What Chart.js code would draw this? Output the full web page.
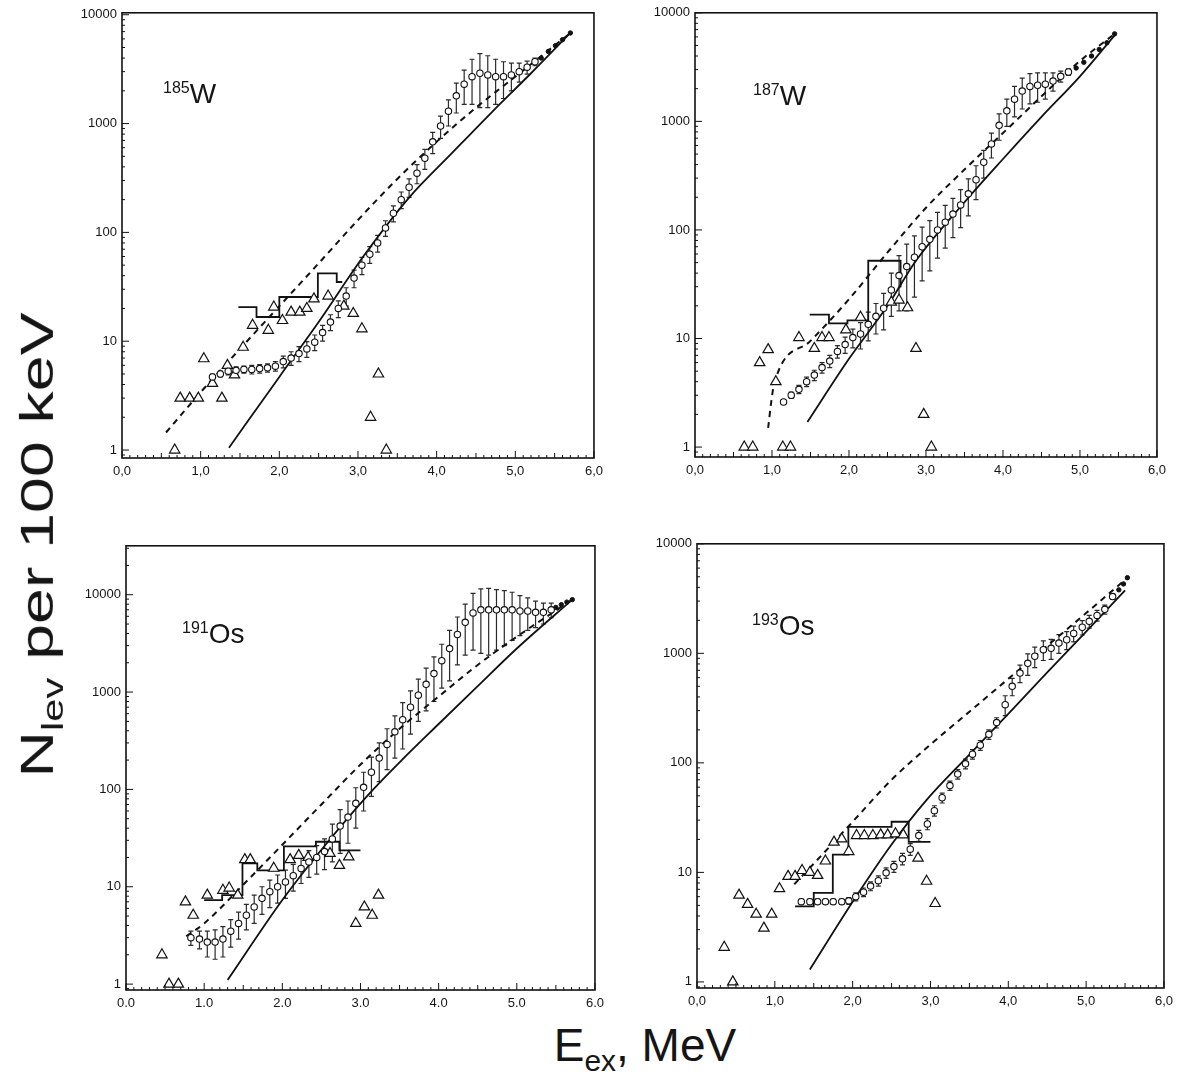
<!DOCTYPE html>
<html>
<head>
<meta charset="utf-8">
<script src="https://cdn.jsdelivr.net/npm/chart.js@4.4.1/dist/chart.umd.min.js"></script>
<style>
body { margin:0; background:#fff; width:1178px; height:1079px; position:relative; overflow:hidden;
       font-family:'Liberation Sans', Arial, sans-serif; color:#151515; }
canvas { position:absolute; }
.nuc { position:absolute; font-size:28px; line-height:1; white-space:nowrap; }
.nuc sup { font-size:16px; vertical-align:0; position:relative; top:-10px; }
#ytitle { position:absolute; left:-215px; top:515px; width:510px; text-align:center; font-size:46px;
          white-space:nowrap; transform:rotate(-90deg) scaleX(1.4); transform-origin:center; }
#xtitle { position:absolute; left:500px; top:1018px; width:290px; text-align:center; font-size:46px; white-space:nowrap; }
sub { font-size:0.65em; }
</style>
</head>
<body>
<canvas id="c185"></canvas>
<canvas id="c187"></canvas>
<canvas id="c191"></canvas>
<canvas id="c193"></canvas>
<div class="nuc" style="left:163px;top:80px"><sup>185</sup>W</div>
<div class="nuc" style="left:753px;top:82px"><sup>187</sup>W</div>
<div class="nuc" style="left:182px;top:620px"><sup>191</sup>Os</div>
<div class="nuc" style="left:752px;top:612px"><sup>193</sup>Os</div>
<div id="ytitle">N<sub>lev</sub> per 100 keV</div>
<div id="xtitle">E<sub>ex</sub>, MeV</div>
<script>
// ---------- 185W ----------
const w185TriX = [0.67,0.74,0.86,0.97,1.04,1.15,1.27,1.34,1.43,1.54,1.66,1.86,1.93,2.04,2.15,2.26,2.35,2.44,2.62,2.82,2.94,3.05,3.16,3.26,3.36];
const w185TriY = [1,3,3,3,6.9,4.1,3,6,4.9,8.8,14,12.6,20.6,15.5,18.5,18.5,20,24.5,26,21,18,13,2.0,5.0,1.0];
const w185X = [1.15,1.25,1.35,1.45,1.55,1.65,1.75,1.85,1.95,2.05,2.15,2.25,2.35,2.45,2.55,2.65,2.75,2.85,2.95,3.05,3.15,3.25,3.35,3.45,3.55,3.65,3.75,3.85,3.95,4.05,4.15,4.25,4.35,4.45,4.55,4.65,4.75,4.85,4.95,5.05,5.15,5.25];
const w185Y = [4.7,5.0,5.3,5.4,5.5,5.5,5.6,5.7,5.9,6.5,7.0,7.7,8.5,9.8,12,15,20,26,38,50,63,80,110,150,200,260,350,480,680,950,1300,1800,2300,2700,2900,2800,2700,2700,2800,3000,3300,3700];
const w185Err = [0.3,0.3,0.4,0.4,0.4,0.5,0.5,0.5,0.6,0.8,1.0,1.2,1.4,1.6,2.0,2.5,3.5,5,7,9,11,14,18,25,35,50,70,100,150,220,350,550,800,1200,1500,1400,1200,1000,800,600,450,300];
const w185DotX = [5.33,5.42,5.51,5.60,5.70];
const w185DotY = [4000,4600,5200,5900,6800];
const w185HistX = [1.48,1.71,2.0,2.49,2.73,2.8];
const w185HistY = [20.6,16.7,25.5,42,35];
const w185SolidX = [1.36,2.0,2.5,3.06,3.65,4.2,4.7,5.2,5.7];
const w185SolidY = [1.05,4.7,15,59,209,540,1270,2900,6800];
const w185DashX = [0.56,1.0,1.5,2.0,2.5,3.0,3.5,4.0,4.5,5.0,5.7];
const w185DashY = [1.45,3.4,8.5,21,52,130,310,680,1400,2700,6800];

// ---------- 187W ----------
const w187TriX = [0.64,0.75,0.84,0.95,1.05,1.14,1.24,1.35,1.55,1.65,1.74,1.96,2.15,2.55,2.65,2.76,2.87,2.97,3.07];
const w187TriY = [1,1,6.0,7.9,4.0,1,1,10.2,8.1,10.2,10.2,12,15.7,21.6,22.6,19.2,8.1,2.0,1];
const w187X = [1.15,1.25,1.35,1.45,1.55,1.65,1.75,1.85,1.95,2.05,2.15,2.25,2.35,2.45,2.55,2.65,2.75,2.85,2.95,3.05,3.15,3.25,3.35,3.45,3.55,3.65,3.75,3.85,3.95,4.05,4.15,4.25,4.35,4.45,4.55,4.65,4.75,4.85];
const w187Y = [2.6,3.0,3.4,4.0,4.6,5.4,6.2,7.6,8.8,10.2,11,13.5,16,19,28,38,46,56,70,82,100,118,140,170,215,290,420,620,920,1250,1600,1900,2100,2150,2200,2350,2600,2850];
const w187Err = [0.1,0.2,0.3,0.4,0.5,0.6,0.8,1.0,1.5,2,3,4,5,7,12,20,28,32,36,40,45,50,55,65,80,100,120,160,250,350,500,600,650,650,600,450,300,200];
const w187DotX = [4.95,5.05,5.15,5.25,5.35,5.45];
const w187DotY = [3100,3500,4000,4600,5300,6400];
const w187HistX = [1.49,1.74,1.98,2.25,2.67,2.68];
const w187HistY = [16.6,13.8,14.7,52,30];
const w187SolidX = [1.46,2.0,2.5,2.87,3.5,4.0,4.5,5.0,5.45];
const w187SolidY = [1.7,6.5,20,52,180,450,1100,2600,6200];
const w187DashX = [0.95,0.99,1.03,1.5,2.0,2.5,3.0,3.5,4.0,4.5,5.0,5.45];
const w187DashY = [1.5,2.6,3.9,9.5,23,62,160,360,780,1700,3600,6400];

// ---------- 191Os ----------
const os191TriX = [0.46,0.55,0.67,0.76,0.86,1.04,1.24,1.32,1.43,1.52,1.59,1.89,2.10,2.21,2.33,2.61,2.73,2.85,2.94,3.05,3.15,3.23];
const os191TriY = [2.0,1,1,7.0,5.1,8.2,9.2,9.7,8.2,19,19,15.5,19,21,20,22,16.6,20.3,4.2,6.2,5.1,8.2];
const os191X = [0.83,0.94,1.04,1.14,1.24,1.34,1.44,1.54,1.64,1.74,1.84,1.94,2.04,2.14,2.24,2.34,2.44,2.54,2.64,2.74,2.84,2.94,3.04,3.14,3.24,3.34,3.44,3.54,3.64,3.74,3.84,3.94,4.04,4.14,4.24,4.34,4.44,4.54,4.64,4.74,4.84,4.94,5.04,5.14,5.24,5.34,5.44];
const os191Y = [3.0,2.9,2.7,2.7,2.9,3.5,4.2,5.1,6.2,7.6,8.9,10,11.2,13,15.4,18,20,23,31,42,52,72,105,150,210,290,390,520,700,930,1200,1550,2100,2800,3900,5200,6500,7000,7000,7000,7000,7000,6800,6800,6600,6600,7000];
const os191Err = [0.5,0.6,0.8,0.9,1.0,1.1,1.3,1.5,2.0,2.4,2.8,3.2,3.6,4.0,4.6,5.5,6.5,8,13,20,24,32,45,65,90,130,180,260,330,430,560,750,1000,1500,2000,2800,3800,4500,4600,4300,4000,3600,3000,2500,2000,1600,1200];
const os191DotX = [5.50,5.57,5.64,5.71];
const os191DotY = [7400,7900,8400,8900];
const os191HistX = [1.0,1.23,1.49,1.68,2.02,2.43,2.73,3.0];
const os191HistY = [7.3,8.2,17.4,14.7,26,29,23.6];
const os191SolidX = [1.30,2.0,2.5,3.07,3.5,4.0,4.5,5.0,5.71];
const os191SolidY = [1.1,7.3,24,83,190,470,1150,2800,8900];
const os191DashX = [0.77,1.0,1.5,2.0,2.5,3.0,3.5,4.0,4.5,5.0,5.71];
const os191DashY = [3.1,4.2,10.5,27,70,180,420,900,1900,3700,8900];

// ---------- 193Os ----------
const os193TriX = [0.35,0.46,0.54,0.65,0.76,0.86,0.96,1.06,1.17,1.26,1.35,1.45,1.55,1.65,1.76,1.86,1.95,2.05,2.15,2.26,2.36,2.45,2.55,2.65,2.84,2.95,3.06];
const os193TriY = [2.07,1.0,6.2,5.1,4.15,3.1,4.15,7.1,9.2,9.2,10.4,10,9.4,12.7,18.9,20.2,15.5,21.7,21.7,21.7,22,22,22.5,22,13.5,8.3,5.2];
const os193X = [1.34,1.45,1.55,1.65,1.75,1.86,1.95,2.04,2.14,2.23,2.33,2.43,2.53,2.64,2.74,2.85,2.96,3.05,3.15,3.25,3.35,3.45,3.54,3.64,3.75,3.85,3.96,4.05,4.15,4.25,4.34,4.45,4.55,4.65,4.75,4.84,4.95,5.04,5.14,5.24,5.34];
const os193Y = [5.4,5.4,5.4,5.4,5.4,5.4,5.5,6.0,6.6,7.5,8.4,9.9,11.3,13.3,16.3,21.7,27.7,36.6,48,62,79,98,120,145,182,233,340,500,660,810,940,1080,1110,1240,1330,1520,1730,1960,2220,2520,3300];
const os193Err = [0.3,0.3,0.3,0.3,0.3,0.3,0.4,0.5,0.6,0.7,0.9,1.1,1.3,1.6,2,2.5,3.2,4,5,6,8,10,12,15,18,25,70,90,120,180,200,220,230,240,250,250,260,260,250,240,200];
const os193DotX = [5.42,5.48,5.53];
const os193DotY = [3800,4300,4900];
const os193HistX = [1.26,1.5,1.745,1.945,2.5,2.72,3.0];
const os193HistY = [4.9,6.5,14.5,26,29,19];
const os193SolidX = [1.45,2.0,2.5,2.94,3.5,4.0,4.5,5.0,5.5];
const os193SolidY = [1.3,5.4,18,45,119,280,670,1580,3750];
const os193DashX = [1.25,1.5,2.0,2.5,3.0,3.5,4.0,4.5,5.0,5.53];
const os193DashY = [7.8,12,29,70,147,293,585,1170,2330,4900];

const decades = [1, 10, 100, 1000, 10000];

function pts(xs, ys) { return xs.map((v, i) => ({x: v, y: ys[i]})); }

// error bars under the markers, inward ticks and the closed frame
const panelDeco = {
  id: 'panelDeco',
  beforeDatasetsDraw(chart) {
    const {ctx, scales: {x, y}} = chart;
    chart.data.datasets.forEach(ds => {
      if (!ds.errBars) return;
      ctx.save();
      ctx.strokeStyle = '#2a2a2a';
      ctx.lineWidth = 1.2;
      ds.data.forEach((p, i) => {
        const e = ds.errBars[i];
        const px = x.getPixelForValue(p.x);
        const top = y.getPixelForValue(p.y + e);
        const bot = y.getPixelForValue(Math.max(p.y - e, y.min));
        ctx.beginPath();
        ctx.moveTo(px, top); ctx.lineTo(px, bot);
        ctx.moveTo(px - 2.5, top); ctx.lineTo(px + 2.5, top);
        ctx.moveTo(px - 2.5, bot); ctx.lineTo(px + 2.5, bot);
        ctx.stroke();
      });
      ctx.restore();
    });
  },
  afterDraw(chart) {
    const {ctx, chartArea: a, scales: {x, y}} = chart;
    ctx.save();
    ctx.strokeStyle = '#111';
    ctx.lineWidth = 1;
    ctx.beginPath();
    for (let k = 0; k <= 60; k++) {
      const px = x.getPixelForValue(k / 10);
      const len = k % 10 === 0 ? 7 : (k % 5 === 0 ? 5 : 3);
      ctx.moveTo(px, a.bottom); ctx.lineTo(px, a.bottom - len);
    }
    for (let e = -1; e <= 4; e++) {
      for (let m = 1; m < 10; m++) {
        const v = m * Math.pow(10, e);
        if (v < y.min || v > y.max) continue;
        const py = y.getPixelForValue(v);
        const len = m === 1 ? 7 : 3;
        ctx.moveTo(a.left, py); ctx.lineTo(a.left + len, py);
      }
    }
    ctx.stroke();
    ctx.lineWidth = 1.6;
    ctx.strokeRect(a.left, a.top, a.right - a.left, a.bottom - a.top);
    ctx.restore();
  }
};

function makePanel(id, box, yMin, yMax, sep, d) {
  const padL = 62, padT = 12, padR = 14, padB = 26;
  const cv = document.getElementById(id);
  cv.width = box[2] - box[0] + padL + padR;
  cv.height = box[3] - box[1] + padT + padB;
  cv.style.left = (box[0] - padL) + 'px';
  cv.style.top = (box[1] - padT) + 'px';

  const histPts = d.histX.map((v, i) => ({x: v, y: d.histY[Math.min(i, d.histY.length - 1)]}));
  const tickFont = {family: "'Liberation Sans', Arial, sans-serif", size: 13};

  new Chart(cv.getContext('2d'), {
    type: 'scatter',
    data: {
      datasets: [
        { label: 'exp', data: pts(d.cx, d.cy), errBars: d.err,
          pointStyle: 'circle', pointRadius: 3.2, borderColor: '#111', backgroundColor: '#fff', borderWidth: 1.1 },
        { label: 'tri', data: pts(d.tx, d.ty),
          pointStyle: 'triangle', pointRadius: 6, borderColor: '#111', backgroundColor: '#fff', borderWidth: 1.2 },
        { label: 'dots', data: pts(d.dx, d.dy),
          pointStyle: 'circle', pointRadius: 2.2, borderColor: '#111', backgroundColor: '#111', borderWidth: 1 },
        { label: 'hist', data: histPts, showLine: true, stepped: true,
          pointRadius: 0, borderColor: '#111', borderWidth: 1.8 },
        { label: 'solid', data: pts(d.sx, d.sy), showLine: true, cubicInterpolationMode: 'monotone',
          pointRadius: 0, borderColor: '#111', borderWidth: 1.8 },
        { label: 'dash', data: pts(d.ax, d.ay), showLine: true, cubicInterpolationMode: 'monotone',
          pointRadius: 0, borderColor: '#111', borderWidth: 2, borderDash: [6, 5] }
      ]
    },
    options: {
      responsive: false,
      animation: false,
      events: [],
      layout: { padding: {top: padT, right: padR, bottom: 0, left: 0} },
      plugins: { legend: {display: false}, tooltip: {enabled: false} },
      scales: {
        x: {
          type: 'linear', min: 0, max: 6,
          grid: {display: false, drawTicks: false}, border: {display: false},
          ticks: { stepSize: 1, padding: 6, color: '#151515', font: tickFont, maxRotation: 0,
                   callback: v => v.toFixed(1).replace('.', sep) },
          afterFit: s => { s.height = padB; }
        },
        y: {
          type: 'logarithmic', min: yMin, max: yMax,
          grid: {display: false, drawTicks: false}, border: {display: false},
          afterBuildTicks: s => { s.ticks = decades.filter(v => v >= yMin && v <= yMax).map(v => ({value: v})); },
          ticks: { padding: 5, color: '#151515', font: tickFont, callback: v => String(v) },
          afterFit: s => { s.width = padL; }
        }
      }
    },
    plugins: [panelDeco]
  });
}

makePanel('c185', [122, 12, 595, 458], 0.845, 10420, ',', {
  tx: w185TriX, ty: w185TriY, cx: w185X, cy: w185Y, err: w185Err, dx: w185DotX, dy: w185DotY,
  histX: w185HistX, histY: w185HistY, sx: w185SolidX, sy: w185SolidY, ax: w185DashX, ay: w185DashY });
makePanel('c187', [695, 12, 1158, 457], 0.81, 10000, ',', {
  tx: w187TriX, ty: w187TriY, cx: w187X, cy: w187Y, err: w187Err, dx: w187DotX, dy: w187DotY,
  histX: w187HistX, histY: w187HistY, sx: w187SolidX, sy: w187SolidY, ax: w187DashX, ay: w187DashY });
makePanel('c191', [126, 545, 596, 990], 0.87, 31800, '.', {
  tx: os191TriX, ty: os191TriY, cx: os191X, cy: os191Y, err: os191Err, dx: os191DotX, dy: os191DotY,
  histX: os191HistX, histY: os191HistY, sx: os191SolidX, sy: os191SolidY, ax: os191DashX, ay: os191DashY });
makePanel('c193', [697, 543, 1165, 988], 0.88, 10000, ',', {
  tx: os193TriX, ty: os193TriY, cx: os193X, cy: os193Y, err: os193Err, dx: os193DotX, dy: os193DotY,
  histX: os193HistX, histY: os193HistY, sx: os193SolidX, sy: os193SolidY, ax: os193DashX, ay: os193DashY });
</script>
</body>
</html>
